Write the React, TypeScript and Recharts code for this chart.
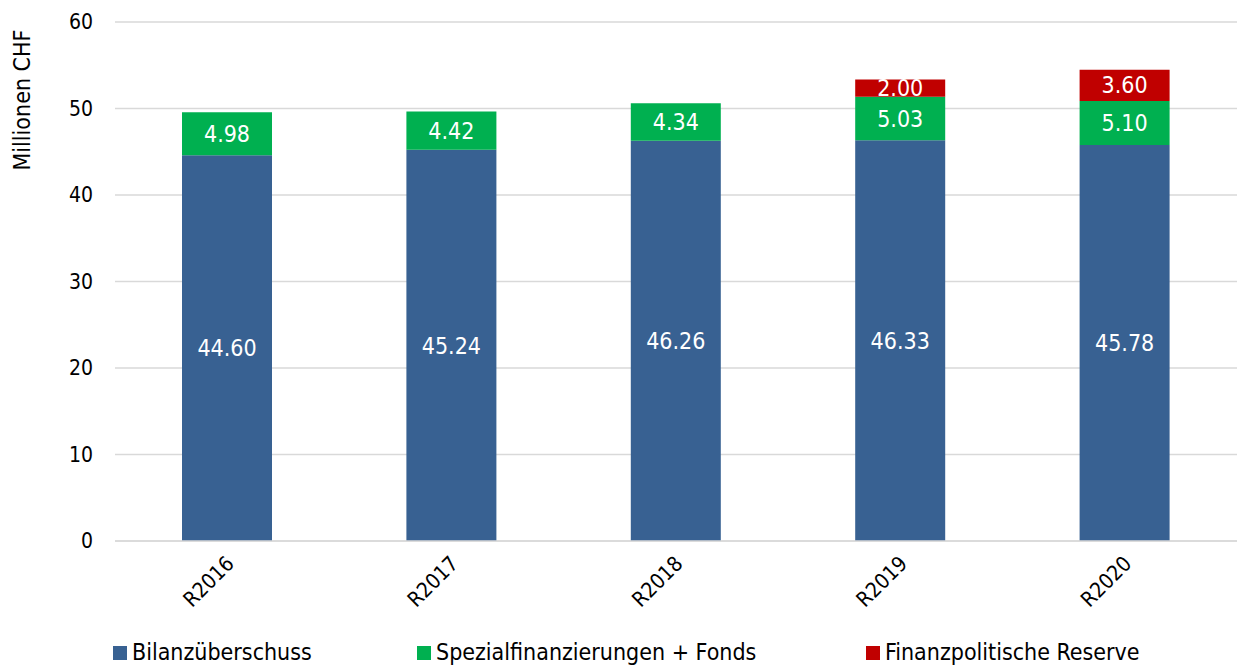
import React from 'react';
import {
  BarChart, Bar, XAxis, YAxis, CartesianGrid, Legend, LabelList, Label,
} from 'recharts';

const jahre = ['R2016', 'R2017', 'R2018', 'R2019', 'R2020'];
const bilanzueberschuss = [44.6, 45.24, 46.26, 46.33, 45.78];
const spezialfinanzierungen = [4.98, 4.42, 4.34, 5.03, 5.1];
const finanzpolitischeReserve = [null, null, null, 2.0, 3.6];
const yTicks = [0, 10, 20, 30, 40, 50, 60];

const FONT = '"DejaVu Sans Condensed", "DejaVu Sans", sans-serif';

const serien = [
  { key: 'bilanz', name: 'Bilanzüberschuss', color: '#386192' },
  { key: 'spezial', name: 'Spezialfinanzierungen + Fonds', color: '#00B050' },
  { key: 'reserve', name: 'Finanzpolitische Reserve', color: '#C00000' },
];

const data = jahre.map((jahr, i) => ({
  jahr,
  bilanz: bilanzueberschuss[i],
  spezial: spezialfinanzierungen[i],
  reserve: finanzpolitischeReserve[i],
}));

const fmt = (v: any) => (v == null ? '' : Number(v).toFixed(2));

const XTick = (props: any) => {
  const { x, y, payload } = props;
  return (
    <text
      x={x + 8}
      y={y + 16}
      transform={`rotate(-45 ${x + 8} ${y + 16})`}
      textAnchor="end"
      fontSize={21}
      fontFamily={FONT}
      fill="#000"
    >
      {payload.value}
    </text>
  );
};

const LegendContent = () => {
  const pos = [113, 417, 866];
  return (
    <svg width={1237} height={36} style={{ display: 'block', overflow: 'visible' }}>
      {serien.map((s, i) => (
        <g key={s.key}>
          <rect x={pos[i]} y={16} width={14} height={14} fill={s.color} />
          <text x={pos[i] + 19} y={30} fontSize={23} fontFamily={FONT} fill="#000">
            {s.name}
          </text>
        </g>
      ))}
    </svg>
  );
};

const App: React.FC = () => {
  return (
    <div style={{ position: 'absolute', left: 0, top: 0, width: 1237, height: 666, background: '#fff' }}>
      <BarChart
        width={1237}
        height={666}
        data={data}
        barSize={90}
        margin={{ top: 22, right: 0, left: 0, bottom: 0 }}
      >
        <CartesianGrid vertical={false} stroke="#d9d9d9" strokeWidth={1.5} />
        <XAxis
          dataKey="jahr"
          height={89}
          tick={<XTick />}
          tickLine={false}
          axisLine={{ stroke: '#d9d9d9', strokeWidth: 1.5 }}
          interval={0}
        />
        <YAxis
          width={115}
          domain={[0, 60]}
          ticks={yTicks}
          tickLine={false}
          axisLine={false}
          tickSize={0}
          tickMargin={22}
          tick={{ fontSize: 21, fontFamily: FONT, fill: '#000' }}
        >
          <Label
            content={() => (
              <text
                x={30}
                y={100}
                transform="rotate(-90 30 100)"
                textAnchor="middle"
                fontSize={23}
                fontFamily={FONT}
                fill="#000"
              >
                Millionen CHF
              </text>
            )}
          />
        </YAxis>
        <Legend verticalAlign="bottom" height={36} content={<LegendContent />} />
        {serien.map((s) => (
          <Bar
            key={s.key}
            dataKey={s.key}
            name={s.name}
            stackId="a"
            fill={s.color}
            isAnimationActive={false}
          >
            <LabelList
              dataKey={s.key}
              position="center"
              formatter={fmt}
              fill="#fff"
              fontSize={23}
              fontFamily={FONT}
            />
          </Bar>
        ))}
      </BarChart>
    </div>
  );
};

export default App;
